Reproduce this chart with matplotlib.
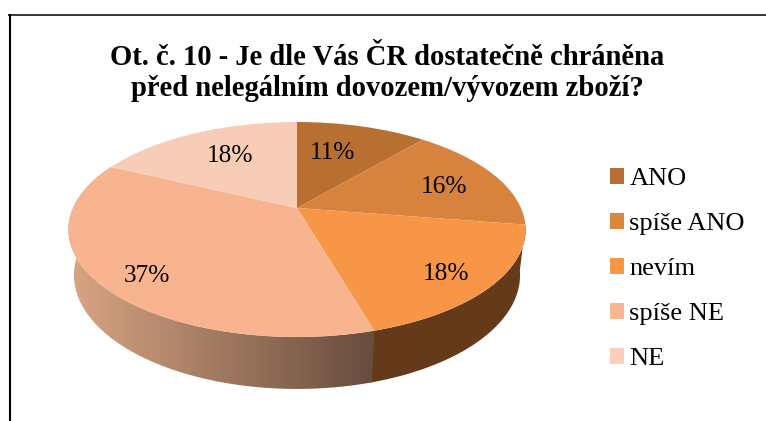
import numpy as np
import matplotlib
matplotlib.use('Agg')
import matplotlib.pyplot as plt
from matplotlib.patches import Polygon
from matplotlib.transforms import Transform

categories = ['ANO', 'spíše ANO', 'nevím', 'spíše NE', 'NE']
values = [11.2, 16.3, 18.0, 36.6, 17.9]
top_colors = ['#B86F32', '#D7823D', '#F79646', '#F8B48F', '#F7CDB8']
legend_colors = ['#B96F32', '#DC853F', '#F99746', '#FAB592', '#FBCEBA']
title = 'Ot. č. 10 - Je dle Vás ČR dostatečně chráněna\npřed nelegálním dovozem/vývozem zboží?'

# label centres in picture pixels
label_xy = [(332, 153), (444, 187), (446, 274), (147, 276), (230, 156)]

# projection of the tilted pie, in picture pixels
cx, cy = 297, 208
A, B, K = 224, 103.2, 0.2
DEPTH, SHRINK = 45.9, 0.024


def project(u, v, z=0.0):
    w = 1 + K * v + SHRINK * z
    return cx + A * u / w, cy + (-B * v + DEPTH * z) / w


class PieProjection(Transform):
    input_dims = 2
    output_dims = 2
    is_separable = False

    def transform_non_affine(self, values):
        x, y = project(values[:, 0], values[:, 1])
        return np.column_stack([x, y])


def wall(start, end):
    # side of the pie between two clockwise angles measured from the top
    t = np.radians(np.linspace(start, end, 80))
    top = np.column_stack(project(np.sin(t), np.cos(t)))
    bottom = np.column_stack(project(np.sin(t), np.cos(t), 1.0))
    return np.vstack([top, bottom[::-1]])


plt.rcParams['font.family'] = ['Liberation Serif', 'DejaVu Serif']

fig = plt.figure(figsize=(7.66, 4.21), dpi=100)
ax = fig.add_axes([0, 0, 1, 1])

wedges, _ = ax.pie(values, colors=top_colors, startangle=90, counterclock=False,
                   radius=1, wedgeprops={'linewidth': 0})
persp = PieProjection() + ax.transData
for w in wedges:
    w.set_transform(persp)
    w.set_zorder(3)

angles = np.cumsum([0] + values) * 3.6

# dark wall under "nevím"
ax.add_patch(Polygon(wall(angles[2], angles[3] + 0.5), closed=True, fc='#643A1B', ec='none', zorder=1.2))

# shaded wall under "spíše NE"
shade_xy = wall(angles[3], angles[4])
shade = Polygon(shade_xy, closed=True, fc='none', ec='none', transform=ax.transData)
ax.add_patch(shade)
grad = np.linspace(0, 1, 256)[None, :, None]
left_c = np.array([0xD9, 0xA6, 0x84]) / 255
right_c = np.array([0x68, 0x4C, 0x3D]) / 255
seam_x = shade_xy[0, 0]
img = ax.imshow(left_c + (right_c - left_c) * grad,
                extent=(shade_xy[:, 0].min(), seam_x, shade_xy[:, 1].max(), shade_xy[:, 1].min()),
                aspect='auto', zorder=1.5, interpolation='bilinear')
img.set_clip_path(shade)

for (x, y), v in zip(label_xy, values):
    ax.text(x, y, f'{round(v)}%', fontsize=18.3, ha='center', va='center', color='black', zorder=5)

ax.text(387, 73, title, fontsize=20.6, fontweight='bold', ha='center', va='center',
        linespacing=1.22, color='black', zorder=5)

# frame only shows on the left and the top
ax.plot([9.5, 9.5], [14, 421], color='black', lw=1.5, solid_capstyle='butt', zorder=5)
ax.plot([8, 766], [14.5, 14.5], color='black', lw=1.1, solid_capstyle='butt', zorder=5)

handles = [plt.Rectangle((0, 0), 1, 1, fc=c, ec='none') for c in legend_colors]
leg = ax.legend(handles, categories, loc='upper left', bbox_to_anchor=(610, 168),
                bbox_transform=ax.transData, frameon=False, fontsize=19,
                handlelength=0.53, handleheight=0.53, handletextpad=0.2,
                labelspacing=0.87, borderpad=0, borderaxespad=0)

ax.set_aspect('auto')
ax.set_xlim(0, 766)
ax.set_ylim(421, 0)
ax.axis('off')

fig.savefig('out.png', dpi=100, facecolor='white')
